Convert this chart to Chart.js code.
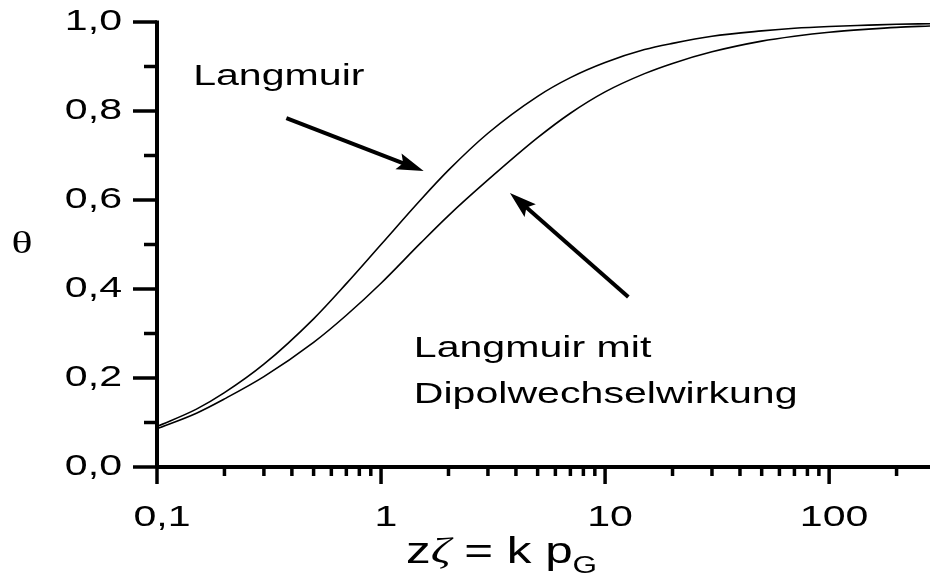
<!DOCTYPE html>
<html>
<head>
<meta charset="utf-8">
<script src="https://cdn.jsdelivr.net/npm/chart.js@4/dist/chart.umd.min.js"></script>
<style>
  html, body { margin: 0; padding: 0; background: #fff; }
  #wrap { width: 930px; height: 577px; position: relative; }
</style>
</head>
<body>
<div id="wrap"><canvas id="c"></canvas></div>
<script>
// Pressure axis (z·zeta = k·p_G), logarithmic
const xValues = [0.1, 0.15, 0.2, 0.3, 0.5, 0.7, 1, 1.5, 2, 3, 5, 7, 10, 15, 20, 30, 50, 70, 100, 150, 200, 282];
// Coverage theta, plain Langmuir isotherm
const langmuir = [0.091, 0.130, 0.167, 0.231, 0.333, 0.412, 0.500, 0.600, 0.667, 0.750, 0.833, 0.875, 0.909, 0.938, 0.952, 0.968, 0.980, 0.986, 0.990, 0.993, 0.995, 0.996];
// Coverage theta, Langmuir with dipole-dipole interaction
const langmuirDipol = [0.086, 0.121, 0.153, 0.203, 0.280, 0.341, 0.413, 0.503, 0.565, 0.645, 0.740, 0.795, 0.843, 0.884, 0.907, 0.933, 0.957, 0.968, 0.977, 0.984, 0.988, 0.991];

const xTickValues = [0.1, 1, 10, 100];
const xTickLabels = ['0,1', '1', '10', '100'];
const yTickValues = [0, 0.2, 0.4, 0.6, 0.8, 1.0];
const yTickLabels = ['0,0', '0,2', '0,4', '0,6', '0,8', '1,0'];

const xMin = 0.1, xMax = 282;

// Curve annotations (data coordinates)
const labelLangmuir = { text: 'Langmuir', x: 0.145, y: 0.858 };
const labelDipol = [
  { text: 'Langmuir mit', x: 1.40, y: 0.247 },
  { text: 'Dipolwechselwirkung', x: 1.40, y: 0.144 }
];
const arrows = [
  { from: [0.378, 0.784], to: [1.55, 0.665] },
  { from: [12.7, 0.382], to: [3.76, 0.616] }
];

const SANS = '"Liberation Sans", Arial, sans-serif';
const SERIF = '"Liberation Serif", "Times New Roman", serif';
const STRETCH = 1.37; // wide lettering

const toPoints = ys => xValues.map((x, i) => ({ x, y: ys[i] }));

// draw text with horizontally widened glyphs
function wideText(ctx, text, x, y, align, font) {
  ctx.save();
  ctx.font = font;
  ctx.translate(x, y);
  ctx.scale(STRETCH, 1);
  ctx.textAlign = align;
  ctx.fillText(text, 0, 0);
  const w = ctx.measureText(text).width * STRETCH;
  ctx.restore();
  return w;
}

function drawArrow(ctx, x1, y1, x2, y2) {
  const ang = Math.atan2(y2 - y1, x2 - x1);
  const headLen = 27, headHalf = 8.5;
  const bx = x2 - headLen * Math.cos(ang), by = y2 - headLen * Math.sin(ang);
  ctx.beginPath();
  ctx.moveTo(x1, y1);
  ctx.lineTo(bx + 6 * Math.cos(ang), by + 6 * Math.sin(ang));
  ctx.lineWidth = 4;
  ctx.stroke();
  ctx.beginPath();
  ctx.moveTo(x2, y2);
  ctx.lineTo(bx + headHalf * Math.sin(ang), by - headHalf * Math.cos(ang));
  ctx.lineTo(bx + 5 * Math.cos(ang), by + 5 * Math.sin(ang));
  ctx.lineTo(bx - headHalf * Math.sin(ang), by + headHalf * Math.cos(ang));
  ctx.closePath();
  ctx.fill();
}

const axesPlugin = {
  id: 'originAxes',
  afterDraw(chart) {
    const ctx = chart.ctx;
    const xs = chart.scales.x, ys = chart.scales.y;
    const x0 = xs.getPixelForValue(xMin);
    const y0 = ys.getPixelForValue(0);
    const yTop = ys.getPixelForValue(1);
    const xRight = xs.getPixelForValue(xMax);
    ctx.save();
    ctx.strokeStyle = '#000';
    ctx.fillStyle = '#000';
    ctx.lineCap = 'butt';

    // axis lines
    ctx.lineWidth = 4;
    ctx.beginPath();
    ctx.moveTo(x0, yTop - 1.5);
    ctx.lineTo(x0, y0);
    ctx.moveTo(x0, y0);
    ctx.lineTo(xRight + 2, y0);
    ctx.stroke();

    // y ticks: major every 0.2, minor every 0.1
    ctx.lineWidth = 3.5;
    for (let i = 0; i <= 10; i++) {
      const py = ys.getPixelForValue(i / 10);
      const len = i % 2 === 0 ? 24 : 13;
      ctx.beginPath();
      ctx.moveTo(x0 - len, py);
      ctx.lineTo(x0, py);
      ctx.stroke();
    }
    // x ticks: decades major, multiples minor
    for (let d = 0.1; d <= 100.0001; d *= 10) {
      for (let m = 1; m <= 9; m++) {
        const v = d * m;
        if (v > xMax) break;
        const px = xs.getPixelForValue(v);
        const len = m === 1 ? 17 : 9;
        ctx.beginPath();
        ctx.moveTo(px, y0);
        ctx.lineTo(px, y0 + len);
        ctx.stroke();
      }
    }

    // tick labels
    const tickFont = '30px ' + SANS;
    ctx.textBaseline = 'middle';
    yTickValues.forEach((v, i) => {
      wideText(ctx, yTickLabels[i], x0 - 35, ys.getPixelForValue(v), 'right', tickFont);
    });
    xTickValues.forEach((v, i) => {
      wideText(ctx, xTickLabels[i], xs.getPixelForValue(v) + 5, y0 + 51, 'center', tickFont);
    });

    // y axis title
    wideText(ctx, '\u03B8', 22, ys.getPixelForValue(0.5), 'center', '32px ' + SERIF);

    // x axis title: zζ = k p_G
    ctx.textBaseline = 'alphabetic';
    const base = y0 + 96;
    let cx = 406;
    const parts = [
      ['z', '36px ' + SANS, 0],
      ['\u03B6', 'italic 36px ' + SERIF, 0],
      [' = k p', '36px ' + SANS, 0],
      ['G', '23px ' + SANS, 10]
    ];
    parts.forEach(([t, f, dy]) => {
      cx += wideText(ctx, t, cx, base + dy, 'left', f);
    });

    // curve labels
    const lblFont = '30px ' + SANS;
    wideText(ctx, labelLangmuir.text, xs.getPixelForValue(labelLangmuir.x), ys.getPixelForValue(labelLangmuir.y), 'left', lblFont);
    labelDipol.forEach(l => wideText(ctx, l.text, xs.getPixelForValue(l.x), ys.getPixelForValue(l.y), 'left', lblFont));

    // arrows
    arrows.forEach(a => drawArrow(ctx,
      xs.getPixelForValue(a.from[0]), ys.getPixelForValue(a.from[1]),
      xs.getPixelForValue(a.to[0]), ys.getPixelForValue(a.to[1])));

    ctx.restore();
  }
};

new Chart(document.getElementById('c'), {
  type: 'scatter',
  data: {
    datasets: [
      { label: 'Langmuir', data: toPoints(langmuir) },
      { label: 'Langmuir mit Dipolwechselwirkung', data: toPoints(langmuirDipol) }
    ].map(d => Object.assign(d, {
      showLine: true,
      borderColor: '#000',
      borderWidth: 1.6,
      pointRadius: 0,
      fill: false,
      cubicInterpolationMode: 'monotone'
    }))
  },
  options: {
    responsive: true,
    maintainAspectRatio: false,
    devicePixelRatio: 1,
    animation: false,
    layout: { padding: { left: 157, top: 22, right: 0, bottom: 110 } },
    plugins: { legend: { display: false }, tooltip: { enabled: false } },
    scales: {
      x: { type: 'logarithmic', min: xMin, max: xMax, display: false },
      y: { type: 'linear', min: 0, max: 1, display: false }
    }
  },
  plugins: [axesPlugin]
});
</script>
</body>
</html>
